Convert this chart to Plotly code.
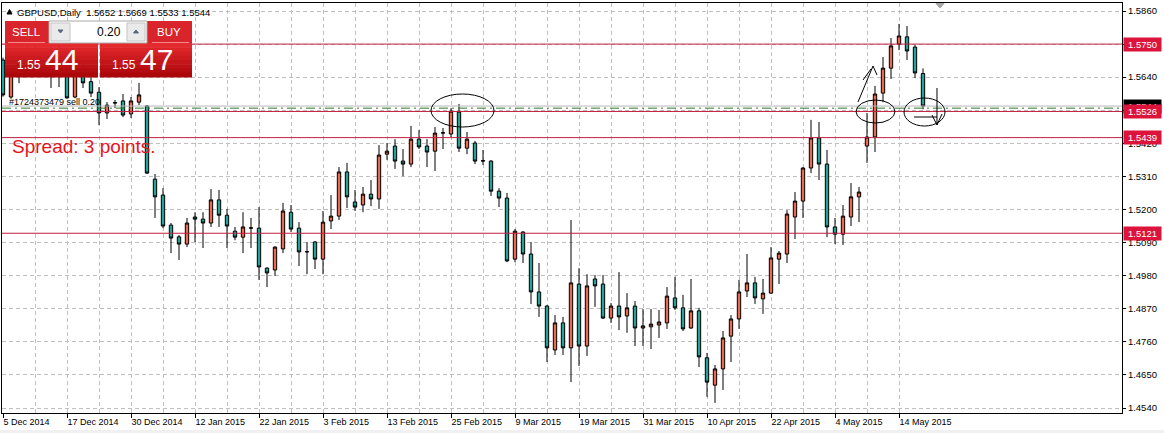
import plotly.graph_objects as go
import pandas as pd

# ---------------- data ----------------
symbol = "GBPUSD"
timeframe = "Daily"
holidays = ["2014-12-25", "2015-01-01"]
trading_days = [d.strftime("%Y-%m-%d") for d in pd.bdate_range("2014-12-05", "2015-05-19")]
dates = [d for d in trading_days if d not in holidays]

opens = [1.5697, 1.5574, 1.5650, 1.5705, 1.5712, 1.5690, 1.5700, 1.5668, 1.5700, 1.5574,
         1.5660, 1.5625, 1.5590, 1.5521, 1.5554, 1.5561, 1.5518, 1.5557, 1.5544, 1.5301,
         1.5248, 1.5148, 1.5109, 1.5085, 1.5175, 1.5168, 1.5155, 1.5232, 1.5181, 1.5128,
         1.5108, 1.5138, 1.5138, 1.5005, 1.4999, 1.5069, 1.5191, 1.5138, 1.5059, 1.5092,
         1.5035, 1.5162, 1.5178, 1.5325, 1.5225, 1.5215, 1.5251, 1.5235, 1.5384, 1.5411,
         1.5361, 1.5351, 1.5434, 1.5411, 1.5394, 1.5454, 1.5451, 1.5524, 1.5404, 1.5421,
         1.5361, 1.5361, 1.5261, 1.5238, 1.5035, 1.5125, 1.5052, 1.4926, 1.4879, 1.4733,
         1.4823, 1.4740, 1.4952, 1.4746, 1.4969, 1.4952, 1.4839, 1.4879, 1.4846, 1.4879,
         1.4806, 1.4810, 1.4816, 1.4823, 1.4906, 1.4873, 1.4806, 1.4863, 1.4707, 1.4616,
         1.4670, 1.4779, 1.4836, 1.4929, 1.4956, 1.4903, 1.4922, 1.5035, 1.5052, 1.5175,
         1.5228, 1.5338, 1.5438, 1.5351, 1.5142, 1.5118, 1.5175, 1.5242, 1.5411, 1.5441,
         1.5587, 1.5670, 1.5750, 1.5774, 1.5740, 1.5652]
highs = [1.5705, 1.5668, 1.5735, 1.5740, 1.5755, 1.5730, 1.5745, 1.5785, 1.5720, 1.5700,
         1.5690, 1.5645, 1.5607, 1.5557, 1.5564, 1.5584, 1.5574, 1.5621, 1.5547, 1.5318,
         1.5271, 1.5155, 1.5115, 1.5172, 1.5191, 1.5191, 1.5268, 1.5265, 1.5202, 1.5142,
         1.5191, 1.5172, 1.5208, 1.5008, 1.5078, 1.5222, 1.5215, 1.5158, 1.5092, 1.5095,
         1.5195, 1.5248, 1.5341, 1.5355, 1.5265, 1.5275, 1.5298, 1.5414, 1.5421, 1.5434,
         1.5401, 1.5478, 1.5464, 1.5434, 1.5474, 1.5471, 1.5537, 1.5551, 1.5458, 1.5428,
         1.5398, 1.5364, 1.5271, 1.5255, 1.5135, 1.5128, 1.5092, 1.5022, 1.4882, 1.4849,
         1.4843, 1.5165, 1.5005, 1.4985, 1.4982, 1.4982, 1.4889, 1.4992, 1.4922, 1.4896,
         1.4869, 1.4869, 1.4866, 1.4942, 1.4976, 1.4916, 1.4969, 1.4873, 1.4723, 1.4683,
         1.4796, 1.4849, 1.4966, 1.5052, 1.4976, 1.4969, 1.5075, 1.5062, 1.5198, 1.5258,
         1.5341, 1.5498, 1.5491, 1.5398, 1.5172, 1.5215, 1.5288, 1.5275, 1.5521, 1.5611,
         1.5707, 1.5770, 1.5817, 1.5810, 1.5747, 1.5669]
lows = [1.5575, 1.5568, 1.5620, 1.5660, 1.5655, 1.5650, 1.5604, 1.5607, 1.5568, 1.5570,
        1.5604, 1.5574, 1.5481, 1.5501, 1.5537, 1.5507, 1.5504, 1.5547, 1.5318, 1.5172,
        1.5138, 1.5055, 1.5032, 1.5075, 1.5092, 1.5072, 1.5142, 1.5142, 1.5072, 1.5098,
        1.5055, 1.5072, 1.4966, 1.4942, 1.4979, 1.5055, 1.5125, 1.5012, 1.4985, 1.5002,
        1.4985, 1.5135, 1.5165, 1.5205, 1.5195, 1.5191, 1.5211, 1.5202, 1.5365, 1.5335,
        1.5311, 1.5341, 1.5401, 1.5341, 1.5328, 1.5401, 1.5441, 1.5391, 1.5384, 1.5351,
        1.5348, 1.5245, 1.5208, 1.5025, 1.5025, 1.5022, 1.4886, 1.4843, 1.4693, 1.4716,
        1.4716, 1.4626, 1.4680, 1.4713, 1.4876, 1.4836, 1.4823, 1.4799, 1.4790, 1.4746,
        1.4746, 1.4736, 1.4773, 1.4803, 1.4866, 1.4796, 1.4803, 1.4676, 1.4577, 1.4557,
        1.4600, 1.4693, 1.4803, 1.4909, 1.4886, 1.4853, 1.4920, 1.4952, 1.5022, 1.5102,
        1.5172, 1.5321, 1.5298, 1.5108, 1.5085, 1.5082, 1.5145, 1.5158, 1.5355, 1.5391,
        1.5557, 1.5634, 1.5730, 1.5697, 1.5637, 1.5533]
closes = [1.5581, 1.5650, 1.5705, 1.5712, 1.5690, 1.5700, 1.5668, 1.5700, 1.5571, 1.5665,
          1.5621, 1.5587, 1.5521, 1.5547, 1.5555, 1.5514, 1.5561, 1.5581, 1.5321, 1.5242,
          1.5145, 1.5105, 1.5085, 1.5155, 1.5168, 1.5155, 1.5232, 1.5181, 1.5145, 1.5108,
          1.5142, 1.5139, 1.5009, 1.4989, 1.5075, 1.5195, 1.5135, 1.5059, 1.5060, 1.5035,
          1.5158, 1.5178, 1.5325, 1.5242, 1.5208, 1.5251, 1.5235, 1.5381, 1.5394, 1.5361,
          1.5351, 1.5434, 1.5408, 1.5391, 1.5454, 1.5455, 1.5527, 1.5404, 1.5434, 1.5361,
          1.5362, 1.5261, 1.5238, 1.5029, 1.5128, 1.5052, 1.4926, 1.4879, 1.4740, 1.4823,
          1.4740, 1.4956, 1.4746, 1.4946, 1.4946, 1.4839, 1.4879, 1.4843, 1.4873, 1.4806,
          1.4813, 1.4819, 1.4826, 1.4912, 1.4873, 1.4803, 1.4863, 1.4710, 1.4626, 1.4670,
          1.4773, 1.4836, 1.4926, 1.4956, 1.4906, 1.4922, 1.5039, 1.5055, 1.5185, 1.5228,
          1.5338, 1.5438, 1.5351, 1.5142, 1.5118, 1.5178, 1.5242, 1.5258, 1.5441, 1.5584,
          1.5670, 1.5744, 1.5777, 1.5727, 1.5654, 1.5544]

level_prices = [1.5750, 1.5526, 1.5439, 1.5121]
bid_price = 1.5544
ask_price = 1.5547
order_price = 1.5537
order_text = "#1724373479 sell 0.20"
lot_size = "0.20"
y_tick_values = [1.4540, 1.4650, 1.4760, 1.4870, 1.4980, 1.5090, 1.5200,
                 1.5310, 1.5420, 1.5530, 1.5640, 1.5750, 1.5860]
y_ticks_hidden = [1.5530, 1.5750]   # covered by price labels in the terminal

label_dates = dates[::8]
x_tick_labels = [f"{pd.Timestamp(d).day} {pd.Timestamp(d).strftime('%b')} {pd.Timestamp(d).year}"
                 for d in label_dates]
grid_dates = dates[::4]

# ---------------- styling ----------------
W, H = 1164, 433
PL, PR, PT, PB = 2, 1122, 3, 413
FONT = "Liberation Sans"
UP = "#EC6853"
DOWN = "#28A096"
LEVEL = "#C21F3F"
LABEL_BG = "#DC143C"
GRID = "#C0C0C0"
X_RANGE = [-0.125, 139.875]
Y_RANGE = [1.45234, 1.58866]


def fx(x):
    return (x - PL) / (PR - PL)


def fy(y):
    return (PB - y) / (PB - PT)


fig = go.Figure()
fig.add_trace(go.Candlestick(
    x=dates, open=opens, high=highs, low=lows, close=closes,
    increasing=dict(fillcolor=UP, line=dict(color="black", width=1)),
    decreasing=dict(fillcolor=DOWN, line=dict(color="black", width=1)),
    whiskerwidth=0, showlegend=False, hoverinfo="skip",
))
fig.add_trace(go.Scatter(x=dates, y=closes, xaxis="x2", mode="markers",
                         marker=dict(opacity=0, size=1), showlegend=False, hoverinfo="skip"))

shapes = []
annotations = []

# bid line and order line
shapes.append(dict(type="line", xref="paper", x0=0, x1=1, yref="y", y0=bid_price, y1=bid_price,
                   line=dict(color="#B8B8B8", width=1), layer="above"))
shapes.append(dict(type="line", xref="paper", x0=0, x1=1, yref="y", y0=order_price, y1=order_price,
                   line=dict(color="#2E7D2E", width=1, dash="9px,4px,2px,4px"), layer="above"))
for p in level_prices:
    shapes.append(dict(type="line", xref="paper", x0=0, x1=1, yref="y", y0=p, y1=p,
                       line=dict(color=LEVEL, width=1), layer="above"))


def rect(x0, y0, x1, y1, fill, line=None, lw=0):
    shapes.append(dict(type="rect", xref="paper", yref="paper",
                       x0=fx(x0), x1=fx(x1), y0=fy(y1), y1=fy(y0),
                       fillcolor=fill, line=dict(color=line or fill, width=lw), layer="above"))


def path(points, color="black", width=1, fill=None, closed=False):
    d = "M " + " L ".join(f"{fx(a):.5f},{fy(b):.5f}" for a, b in points)
    if closed:
        d += " Z"
    shapes.append(dict(type="path", xref="paper", yref="paper", path=d,
                       line=dict(color=color, width=width),
                       fillcolor=fill if fill else "rgba(0,0,0,0)", layer="above"))


def ellipse(x0, y0, x1, y1):
    shapes.append(dict(type="circle", xref="paper", yref="paper",
                       x0=fx(x0), x1=fx(x1), y0=fy(y1), y1=fy(y0),
                       line=dict(color="black", width=1), layer="above"))


def text(x, y, s, size, color="black", xanchor="left", family=FONT, **kw):
    annotations.append(dict(xref="paper", yref="paper", x=fx(x), y=fy(y), text=s,
                            showarrow=False, xanchor=xanchor, yanchor="middle",
                            font=dict(family=family, size=size, color=color),
                            borderpad=0, **kw))


# one-click trading panel
def red_box(x0, x1):
    rect(x0, 21, x1, 43, "#D8242A")
    steps = 8
    top = (228, 42, 46)
    bot = (172, 8, 12)
    for i in range(steps):
        t = i / (steps - 1)
        c = tuple(int(top[k] + (bot[k] - top[k]) * t) for k in range(3))
        ya = 43 + (77 - 43) * i / steps
        yb = 43 + (77 - 43) * (i + 1) / steps
        rect(x0, ya, x1, yb + 0.5, "rgb(%d,%d,%d)" % c)


red_box(5, 98)
red_box(100, 192)
shapes.append(dict(type="line", xref="paper", yref="paper", x0=fx(8), x1=fx(45), y0=fy(42.5), y1=fy(42.5),
                   line=dict(color="#F28A8A", width=1), layer="above"))
shapes.append(dict(type="line", xref="paper", yref="paper", x0=fx(152), x1=fx(189), y0=fy(42.5), y1=fy(42.5),
                   line=dict(color="#F28A8A", width=1), layer="above"))
rect(49, 21, 147, 43, "#FFFFFF", "#A8A8A8", 1)
rect(51, 23, 70, 41, "#EAEAEA", "#C4C4C4", 1)
rect(127, 23, 145, 41, "#EAEAEA", "#C4C4C4", 1)
path([(58, 30), (63, 30), (60.5, 33)], color="#5A6A80", fill="#5A6A80", closed=True)
path([(133.5, 33), (138.5, 33), (136, 30)], color="#5A6A80", fill="#5A6A80", closed=True)
text(122, 32, lot_size, 12, xanchor="right")
text(26, 32, "SELL", 11.5, color="white", xanchor="center")
text(169, 32, "BUY", 11.5, color="white", xanchor="center")

bid_s = f"{bid_price:.4f}"
ask_s = f"{ask_price:.4f}"
text(42, 65, bid_s[:4], 12, color="white", xanchor="right")
text(44, 59, bid_s[4:], 30, color="white")
text(137, 65, ask_s[:4], 12, color="white", xanchor="right")
text(139, 59, ask_s[4:], 30, color="white")

# title
path([(7, 14), (12, 14), (9.5, 9.5)], color="black", fill="black", closed=True)
text(16, 12, f"{symbol},{timeframe}  {opens[-1]:.4f} {highs[-1]:.4f} {lows[-1]:.4f} {closes[-1]:.4f}", 9.5)

# spread and order label
spread = round((ask_price - bid_price) * 10000)
text(11, 146, f"Spread: {spread} points.", 19, color="#E5141B")
text(8, 102, order_text, 9)

# chart shift marker
path([(936, 3.5), (944, 3.5), (940, 8)], color="#A8A8A8", fill="#A8A8A8", closed=True)

# hand drawings
ellipse(431, 94, 494, 127)
ellipse(856, 100, 895, 123)
path([(858, 102), (873, 66), (877, 75)])
path([(863, 80), (871, 69)])
ellipse(904, 98, 945, 126)
path([(914, 117), (937, 117)])
path([(937, 88), (937, 125)])
path([(932, 115), (937, 125), (942, 114)])

# bottom strip
rect(0, 430, 1164, 433, "#F0F0F0")


# price labels on the axis
def price_label(p, bg, h=13):
    annotations.append(dict(xref="paper", yref="y", x=1, y=p, xanchor="left", yanchor="middle",
                            xshift=1, text=f"{p:.4f}", showarrow=False, bgcolor=bg,
                            width=37, height=h, borderpad=0, align="center",
                            font=dict(family=FONT, size=9.5, color="white")))


price_label(bid_price, "#000000")
for p in level_prices:
    price_label(p, LABEL_BG)

fig.update_layout(
    width=W, height=H,
    margin=dict(l=PL, r=W - PR, t=PT, b=H - PB, pad=0),
    paper_bgcolor="white", plot_bgcolor="white",
    showlegend=False, boxgap=0.4,
    font=dict(family=FONT, size=9, color="black"),
    xaxis=dict(type="category", categoryorder="array", categoryarray=dates,
               range=X_RANGE, rangeslider=dict(visible=False),
               tickvals=grid_dates, showticklabels=False, ticks="",
               showgrid=True, gridcolor=GRID, gridwidth=1, griddash="4px,3px",
               showline=True, mirror=True, linecolor="black", linewidth=1, zeroline=False),
    xaxis2=dict(type="category", categoryorder="array", categoryarray=dates,
                range=X_RANGE, overlaying="x", anchor="y", side="bottom",
                tickvals=label_dates, ticktext=x_tick_labels, ticks="outside", ticklen=4,
                tickcolor="black", ticklabelposition="outside right",
                tickfont=dict(family=FONT, size=9, color="black"),
                showgrid=False, showline=False, zeroline=False),
    yaxis=dict(side="right", range=Y_RANGE, tickvals=y_tick_values,
               ticktext=["" if v in y_ticks_hidden else f"{v:.4f}" for v in y_tick_values],
               ticks="outside", ticklen=3, tickcolor="black",
               tickfont=dict(family=FONT, size=9.5, color="black"),
               showgrid=True, gridcolor=GRID, gridwidth=1, griddash="4px,3px",
               showline=True, mirror=True, linecolor="black", linewidth=1, zeroline=False),
    shapes=shapes, annotations=annotations,
)

fig.write_html("out.html")
